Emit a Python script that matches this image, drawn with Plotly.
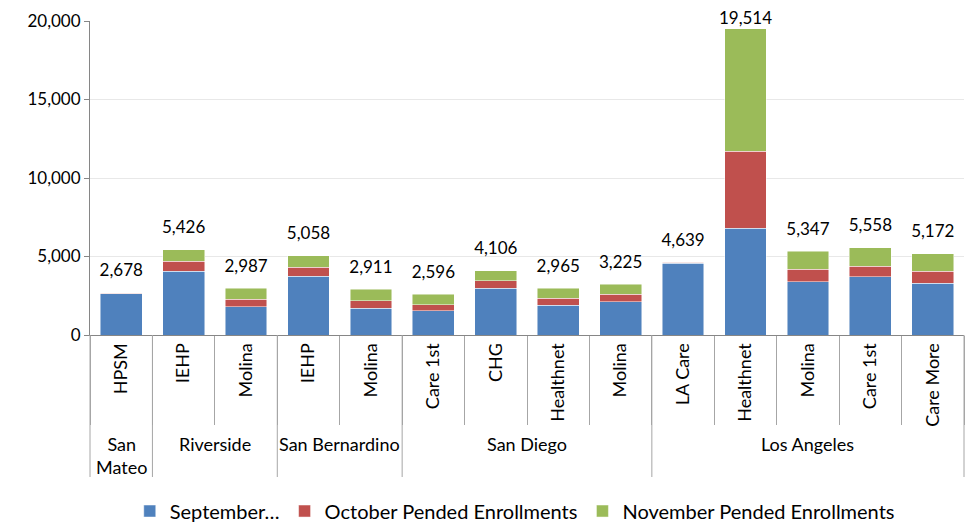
import plotly.graph_objects as go

counties = ["San<br>Mateo", "Riverside", "Riverside", "San Bernardino", "San Bernardino",
            "San Diego", "San Diego", "San Diego", "San Diego",
            "Los Angeles", "Los Angeles", "Los Angeles", "Los Angeles", "Los Angeles"]
plans = ["HPSM", "IEHP", "Molina", "IEHP", "Molina",
         "Care 1st", "CHG", "Healthnet", "Molina",
         "LA Care", "Healthnet", "Molina", "Care 1st", "Care More"]
september = [2640, 4050, 1790, 3740, 1700, 1550, 2990, 1890, 2120, 4580, 6800, 3400, 3700, 3300]
october = [30, 650, 490, 570, 485, 382, 467, 446, 490, 55, 4900, 780, 680, 750]
november = [8, 726, 707, 748, 726, 664, 649, 629, 615, 4, 7814, 1167, 1178, 1122]
totals = [2678, 5426, 2987, 5058, 2911, 2596, 4106, 2965, 3225, 4639, 19514, 5347, 5558, 5172]

series_names = ["September…", "October Pended Enrollments", "November Pended Enrollments"]
colors = ["#4F81BD", "#C0504D", "#9BBB59"]

# repeated plan names are made unique per county with invisible zero-width spaces
seen = {}
inner = []
for p in plans:
    k = seen.get(p, 0)
    inner.append(p + "\u200b" * k)
    seen[p] = k + 1

fig = go.Figure()
for name, vals, c in zip(series_names, [september, october, november], colors):
    fig.add_trace(go.Bar(x=inner, y=vals, name=name,
                         marker=dict(color=c, line=dict(color="rgba(255,255,255,0.6)", width=0.8))))

# invisible markers push the total labels above the bars; the tallest one is
# kept inside the chart area like the original
label_offsets = [18 if t < 18000 else 0 for t in totals]
fig.add_trace(go.Scatter(x=inner, y=totals, mode="markers+text", text=[f"{t:,}" for t in totals],
                         marker=dict(size=label_offsets, opacity=0),
                         textposition="top center", textfont=dict(size=17, color="#000"),
                         showlegend=False, cliponaxis=False, hoverinfo="skip"))

# outer (county) level of the category axis: group labels and dividers
n = len(plans)
groups = []
start = 0
for i in range(1, n + 1):
    if i == n or counties[i] != counties[start]:
        groups.append((counties[start], start, i))
        start = i

plot_h = 522 - 21 - 187
div_len = 142 / plot_h
label_top = 96 / plot_h
bounds = sorted({g[1] for g in groups} | {n})
for b in bounds:
    fig.add_shape(type="line", xref="paper", yref="paper", x0=b / n, x1=b / n, y0=0, y1=-div_len,
                  line=dict(color="#a6a6a6", width=1))
for name, s, e in groups:
    fig.add_annotation(text=name, xref="paper", yref="paper", x=(s + e) / 2 / n, y=-label_top,
                       xanchor="center", yanchor="top", showarrow=False, font=dict(size=18))

font = "Lato, 'Open Sans', sans-serif"
fig.update_layout(
    barmode="stack", bargap=0.33,
    width=967, height=522,
    margin=dict(l=90, r=3, t=21, b=187),
    plot_bgcolor="white", paper_bgcolor="white",
    font=dict(family=font, size=16, color="#000"),
    legend=dict(orientation="h", x=0.486, xanchor="center", yref="container", y=0.021, yanchor="middle",
                font=dict(size=20), traceorder="normal", itemwidth=30),
    xaxis=dict(type="category", tickangle=-90, showline=True, linecolor="#868686",
               ticks="outside", tickson="boundaries", ticklen=89, tickcolor="#a6a6a6",
               tickfont=dict(size=18), range=[-0.5, n - 0.5], automargin=False),
    yaxis=dict(range=[0, 20000], dtick=5000, tickformat=",", showgrid=True, gridcolor="#e8e8e8",
               showline=True, linecolor="#868686", ticks="outside", ticklen=5, tickcolor="#868686",
               tickfont=dict(size=17), zeroline=False, automargin=False),
)
fig.write_html("out.html", config={"displayModeBar": False},
               post_script="document.body.style.margin='0';document.body.style.overflow='hidden';")
